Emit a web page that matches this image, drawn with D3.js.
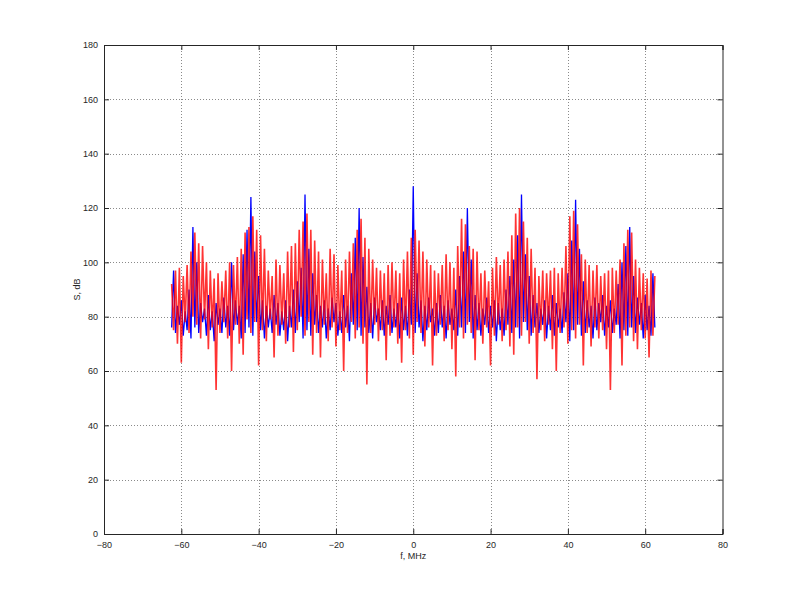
<!DOCTYPE html>
<html><head><meta charset="utf-8">
<script src="https://cdn.jsdelivr.net/npm/d3@7"></script>
<style>html,body{margin:0;padding:0;background:#fff;}svg{display:block;}</style>
</head><body>
<script>
// Frequency grid: first sample, step (MHz)
const fStart = -62.5, fStep = 0.5;
const xTicks = [-80,-60,-40,-20,0,20,40,60,80];
const yTicks = [0,20,40,60,80,100,120,140,160,180];
// Blue spectrum, S (dB), samples from -62.5 to 62.5 MHz
const blueSeries = [
76,97, 74,84, 77,86, 73,82, 75,90, 72,113, 76,100, 74,85, 78,83, 73,88,
75,82, 71,85, 77,83, 74,87, 76,84, 73,100, 75,86, 77,84, 72,103, 74,112,
76,124, 73,104, 78,95, 75,86, 72,84, 76,83, 74,88, 77,85, 73,82, 75,86,
71,84, 76,90, 74,93, 78,98, 72,125, 75,105, 73,96, 77,88, 74,84, 76,86,
72,83, 75,87, 78,85, 73,82, 74,88, 76,84, 71,96, 77,109, 75,120, 73,102,
76,91, 74,85, 72,87, 78,83, 75,86, 73,84, 77,88, 74,83, 76,85, 72,87,
75,84, 73,90, 77,128, 74,96, 76,86, 71,84, 75,87, 78,83, 73,85, 74,88,
76,84, 72,86, 77,83, 75,90, 73,95, 76,104, 74,120, 78,101, 72,88, 75,85,
73,83, 77,87, 74,84, 76,86, 71,85, 75,83, 73,90, 77,95, 74,101, 76,110,
72,125, 78,103, 75,95, 73,88, 76,85, 74,83, 77,86, 72,84, 75,88, 73,85,
76,83, 74,89, 78,96, 71,108, 75,123, 77,105, 73,93, 74,86, 76,84, 72,87,
75,85, 78,88, 73,84, 76,86, 74,83, 77,92, 72,100, 75,106, 73,113, 76,95,
74,87, 77,85, 72,88, 75,84, 73,96, 76];
// Red spectrum, S (dB), samples from -62.5 to 62.5 MHz
const redSeries = [
92,75, 97,70, 98,63, 95,78, 99,74, 104,80, 111,77, 107,72, 106,79, 100,68,
97,76, 94,53, 96,74, 93,78, 97,72, 100,60, 99,77, 102,70, 105,66, 111,79,
113,74, 117,78, 112,62, 110,75, 105,71, 97,79, 95,65, 101,73, 99,77, 96,70,
104,76, 106,67, 107,75, 112,80, 115,73, 118,78, 112,66, 108,74, 104,65, 101,77,
96,71, 105,76, 103,69, 99,75, 97,60, 101,74, 104,78, 107,72, 112,76, 116,70,
109,55, 105,74, 101,77, 98,71, 97,75, 96,64, 99,73, 100,76, 97,70, 96,63,
101,75, 104,72, 109,66, 112,78, 108,74, 104,69, 101,76, 99,62, 97,73, 96,77,
99,71, 103,75, 100,68, 98,58, 106,76, 116,72, 114,77, 106,74, 105,64, 104,75,
96,70, 97,76, 93,62, 98,73, 102,77, 99,71, 101,75, 104,69, 110,66, 118,76,
120,73, 115,78, 109,70, 105,74, 98,57, 95,75, 97,71, 96,77, 97,68, 98,60,
96,74, 98,76, 106,70, 117,75, 119,72, 114,77, 103,62, 101,74, 99,69, 97,76,
99,72, 95,75, 96,68, 97,53, 98,74, 97,77, 101,62, 107,73, 112,76, 111,71,
101,68, 98,75, 96,72, 94,65, 97,73, 95];

const W = 799, H = 600;
const m = {left:104, right:76.5, top:45, bottom:66};
const svg = d3.select("body").append("svg").attr("width",W).attr("height",H)
  .style("font-family","'Liberation Sans', Arial, sans-serif");
svg.append("rect").attr("width",W).attr("height",H).attr("fill","#fff");
const x = d3.scaleLinear().domain([-80,80]).range([m.left, W-m.right]);
const y = d3.scaleLinear().domain([0,180]).range([H-m.bottom, m.top]);

const gridColor = "#8a8a8a";
const g = svg.append("g");
g.selectAll("line.gx").data(xTicks.slice(1,-1)).join("line")
  .attr("x1",d=>Math.round(x(d))+0.5).attr("x2",d=>Math.round(x(d))+0.5)
  .attr("y1",y(180)).attr("y2",y(0))
  .attr("stroke",gridColor).attr("stroke-width",1).attr("stroke-dasharray","1,2");
g.selectAll("line.gy").data(yTicks.slice(1,-1)).join("line")
  .attr("y1",d=>Math.round(y(d))+0.5).attr("y2",d=>Math.round(y(d))+0.5)
  .attr("x1",x(-80)).attr("x2",x(80))
  .attr("stroke",gridColor).attr("stroke-width",1).attr("stroke-dasharray","1,2");

const blueData = blueSeries.map((v,i)=>[fStart+fStep*i, v]);
const redData = redSeries.map((v,i)=>[fStart+fStep*i, v]);
const line = d3.line().x(d=>x(d[0])).y(d=>y(d[1]));
svg.append("path").datum(blueData).attr("d",line).attr("fill","none")
  .attr("stroke","#0000ff").attr("stroke-width",1.3);
svg.append("path").datum(redData).attr("d",line).attr("fill","none")
  .attr("stroke","#ff0000").attr("stroke-width",1.6).attr("stroke-opacity",0.8);

const tl = 5;
const axB = d3.axisBottom(x).tickValues(xTicks).tickSize(-tl).tickPadding(6).tickFormat(d3.format("d"));
const axT = d3.axisTop(x).tickValues(xTicks).tickSize(-tl).tickFormat("");
const axL = d3.axisLeft(y).tickValues(yTicks).tickSize(-tl).tickPadding(6).tickFormat(d3.format("d"));
const axR = d3.axisRight(y).tickValues(yTicks).tickSize(-tl).tickFormat("");
function style(sel){
  sel.selectAll("path,line").attr("stroke","#262626");
  sel.selectAll("text").attr("fill","#262626").attr("font-size","9px")
     .attr("font-family","'Liberation Sans', Arial, sans-serif");
}
svg.append("g").attr("transform",`translate(0,${y(0)})`).call(axB).call(style)
  .selectAll("text").attr("dy","0.9em");
svg.append("g").attr("transform",`translate(0,${y(180)})`).call(axT).call(style);
svg.append("g").attr("transform",`translate(${x(-80)},0)`).call(axL).call(style);
svg.append("g").attr("transform",`translate(${x(80)},0)`).call(axR).call(style);
svg.selectAll(".domain").attr("stroke","#262626");

svg.append("text").attr("x",(x(-80)+x(80))/2).attr("y",559)
  .attr("text-anchor","middle").attr("font-size","9px").attr("fill","#262626")
  .text("f, MHz");
svg.append("text").attr("transform",`translate(80,${(y(0)+y(180))/2}) rotate(-90)`)
  .attr("text-anchor","middle").attr("font-size","9px").attr("fill","#262626")
  .text("S, dB");
</script>
</body></html>
